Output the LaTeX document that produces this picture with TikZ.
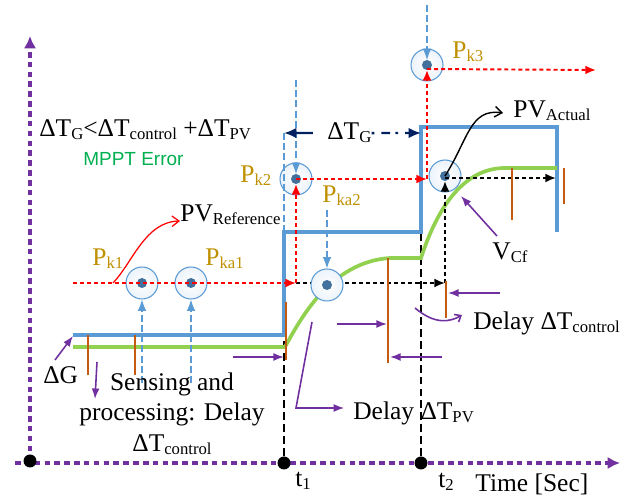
\documentclass[tikz,border=0pt]{standalone}
\usepackage{fontspec}
\setmainfont{Liberation Serif}
\setsansfont{Liberation Sans}
\usetikzlibrary{arrows.meta, positioning, calc}

\definecolor{refblue}{RGB}{91,155,213}
\definecolor{dotblue}{RGB}{65,113,156}
\definecolor{pvgreen}{RGB}{146,208,80}
\definecolor{errgreen}{RGB}{0,176,80}
\definecolor{pgold}{RGB}{191,144,0}
\definecolor{vio}{RGB}{112,48,160}
\definecolor{rust}{RGB}{197,90,17}
\definecolor{navy}{RGB}{0,32,96}

\newcommand{\sbs}[1]{\raisebox{-0.25ex}{\fontsize{9.5}{10}\selectfont #1}}

\begin{document}
\begin{tikzpicture}[
    x=0.02cm, y=-0.02cm,
    lbl/.style={font=\fontsize{14.5}{17.6}\selectfont, inner sep=0pt, anchor=base west},
    plbl/.style={lbl, text=pgold},
    ring/.style={circle, draw=refblue, line width=0.6pt, minimum size=0.64cm, inner sep=0pt,
        inner color=white, outer color=refblue!12,
        path picture={\fill[dotblue] (path picture bounding box.center) circle (0.1cm);}},
    tdot/.style={circle, fill=black, minimum size=0.26cm, inner sep=0pt},
    axis/.style={vio, line width=1.8pt, dash pattern=on 3.2pt off 2.4pt, -{Latex[length=7pt,width=7pt]}},
    refline/.style={draw=refblue, line width=2.1pt},
    pvline/.style={draw=pvgreen, line width=2.1pt},
    bar/.style={rust, line width=1.2pt},
    redflow/.style={red, line width=1.1pt, dash pattern=on 2.3pt off 1.7pt, -{Latex[length=6pt,width=5pt]}},
    blkflow/.style={black, line width=1.1pt, dash pattern=on 2.3pt off 1.7pt, -{Latex[length=6pt,width=5pt]}},
    sense/.style={refblue, line width=0.7pt, dash pattern=on 4pt off 1.8pt, -{Latex[length=6.5pt,width=5pt]}},
    note/.style={vio, line width=0.9pt, -{Latex[length=6pt,width=4.5pt]}},
    tline/.style={black, line width=0.8pt, dash pattern=on 4.5pt off 2.3pt},
    tgarrow/.style={navy, line width=1.3pt, -{Latex[length=7pt,width=6pt]}}
]
    \useasboundingbox (0,0) rectangle (633,499);

    % axes
    \coordinate (ybase) at (30,461);
    \coordinate (ytip) at (30,36);
    \coordinate (xfrom) at (15,463);
    \coordinate (xtip) at (620,463);
    \draw[axis] (ybase) -- (ytip);
    \draw[axis] (xfrom) -- (xtip);
    \node[tdot] (o) at (30,461) {};
    \node[tdot] (t1) at (284,463) {};
    \node[tdot] (t2) at (421,463) {};

    % reference step
    \coordinate (c0) at (73,335);
    \coordinate (c1a) at (284,335);
    \coordinate (c1) at (284,232);
    \coordinate (c2a) at (421,232);
    \coordinate (c2) at (421,127);
    \coordinate (c3) at (557,232);
    \draw[tline] (t1) -- (c1a);
    \draw[tline] (t2) -- (c2a);
    \draw[refline] (c0) -| (c1) -| (c2) -| (c3);

    % actual PV
    \draw[pvline] (73,347) -- (285,347) .. controls (300,320) and (330,262) .. (390,258)
        -- (421,258) .. controls (435,215) and (460,168) .. (505,168) -- (557,168);

    \coordinate (jn1) at (296,283);
    \coordinate (jn2) at (445,283);
    \draw[blkflow] (jn1) -- (jn2);

    % samples
    \node[ring] (pk1) at (142,283) {};
    \node[ring] (pka1) at (191,283) {};
    \node[ring] (pk2) at (296,179) {};
    \node[ring] (pka2) at (327,285) {};
    \node[ring] (pk3) at (427,65) {};
    \node[ring] (pact) at (445,176) {};

    \node[plbl] (lk1) at (92,266) {P\sbs{k1}};
    \node[plbl] (lka1) at (205,266) {P\sbs{ka1}};
    \node[plbl] (lk2) at (240,183) {P\sbs{k2}};
    \node[plbl] (lka2) at (322,203) {P\sbs{ka2}};
    \node[plbl] (lk3) at (452,59) {P\sbs{k3}};

    % reference path
    \coordinate (rstart) at (73,283);
    \coordinate (jn3) at (427,179);
    \coordinate (rend) at (596,70);
    \draw[redflow] (rstart) -- (jn1);
    \draw[redflow, shorten >=0.1cm] (jn1) -- (pk2.center);
    \draw[redflow] (pk2.center) -- (jn3);
    \draw[redflow, shorten >=0.1cm] (jn3) -- (pk3.center);
    \draw[redflow] ($(pk3.center)+(0,4)$) -- (rend);

    \coordinate (aend) at (556,178);
    \draw[blkflow, shorten >=0.1cm] (jn2) -- (pact.center);
    \draw[blkflow] ($(pact.center)+(0,2)$) -- (aend);

    % sensing
    \coordinate (s1) at (142,383);
    \coordinate (s2) at (191,383);
    \coordinate (s3) at (296,80);
    \coordinate (s4) at (327,210);
    \coordinate (s5) at (427,5);
    \draw[sense] (s1) -- (pk1);
    \draw[sense] (s2) -- (pka1);
    \draw[sense, shorten >=0.1cm] (s3) -- (pk2.center);
    \draw[sense] (s4) -- (pka2);
    \draw[sense, shorten >=0.1cm] (s5) -- (pk3.center);

    % delay bars
    \foreach \x/\ya/\yb in {88/335/375, 135/335/375, 286/302/360, 388/258/363,
                           446/281/318, 512/168/220, 564/168/204}
        \draw[bar] (\x,\ya) -- (\x,\yb);

    % window
    \coordinate (tgl) at (284,133);
    \coordinate (tgr) at (421,133);
    \draw[refblue, line width=0.7pt, dash pattern=on 4pt off 1.8pt] (tgl) -- (c1);
    \node[lbl] (dtg) at (327,140) {ΔT\sbs{G}};
    \draw[tgarrow, shorten <=8pt] (dtg.west) -- (tgl);
    \draw[tgarrow, dash pattern=on 1.5pt off 4pt on 5pt off 3pt] (dtg.east) -- (tgr);

    % texts
    \node[lbl] (cond) at (39,137) {ΔT\sbs{G}<ΔT\sbs{control} +ΔT\sbs{PV}};
    \node[lbl, font=\sffamily\fontsize{10.8}{12}\selectfont, text=errgreen] (err) at (83,166) {MPPT Error};
    \node[lbl] (pvref) at (180,222) {PV\sbs{Reference}};
    \node[lbl] (pvact) at (513,118) {PV\sbs{Actual}};
    \node[lbl] (vcf) at (492,260) {V\sbs{Cf}};
    \node[lbl] (dctl) at (473,330) {Delay ΔT\sbs{control}};
    \node[lbl] (dpv) at (353,420) {Delay ΔT\sbs{PV}};
    \node[lbl] (dg) at (43,384) {ΔG};
    \node[lbl, anchor=north, align=center] (sensing) at (172,372) {Sensing and\\processing: Delay\\ΔT\sbs{control}};
    \node[lbl] (lt1) at (295,487) {t\sbs{1}};
    \node[lbl] (lt2) at (438,488) {t\sbs{2}};
    \node[lbl] (time) at (475,492) {Time [Sec]};

    % callouts
    \coordinate (reftip) at (180,221);
    \coordinate (acttip) at (503,113);
    \draw[red, line width=0.7pt, -{Straight Barb[length=4pt,width=6pt]}]
        (113,283) .. controls (133,262) and (145,222) .. (reftip);
    \draw[black, line width=0.8pt, -{Straight Barb[length=4pt,width=6pt]}]
        (pact.center) .. controls (468,140) and (470,108) .. (acttip);

    \coordinate (n1a) at (55,360);
    \coordinate (n1b) at (73,336);
    \coordinate (n2a) at (97,362);
    \coordinate (n2b) at (95,399);
    \coordinate (n3a) at (233,357);
    \coordinate (n3b) at (284,357);
    \coordinate (n4a) at (312,322);
    \coordinate (n4b) at (296,408);
    \coordinate (n5a) at (337,324);
    \coordinate (n5b) at (387,324);
    \coordinate (n6a) at (442,357);
    \coordinate (n6b) at (390,357);
    \coordinate (n7a) at (500,293);
    \coordinate (n7b) at (448,293);
    \coordinate (n8a) at (415,308);
    \coordinate (n8b) at (462,315);
    \coordinate (n9a) at (497,236);
    \coordinate (n9b) at (461,196);
    \draw[note] (n1a) -- (n1b);
    \draw[note] (n2a) -- (n2b);
    \draw[note] (n3a) -- (n3b);
    \draw[note, shorten >=5pt] (n4a) -- (n4b) -- (n4b -| dpv.west);
    \draw[note] (n5a) -- (n5b);
    \draw[note] (n6a) -- (n6b);
    \draw[note] (n7a) -- (n7b);
    \draw[vio, line width=0.9pt, -{Straight Barb[length=3pt,width=5pt]}]
        (n8a) .. controls (435,325) and (450,322) .. (n8b);
    \draw[note] (n9a) -- (n9b);
\end{tikzpicture}
\end{document}
